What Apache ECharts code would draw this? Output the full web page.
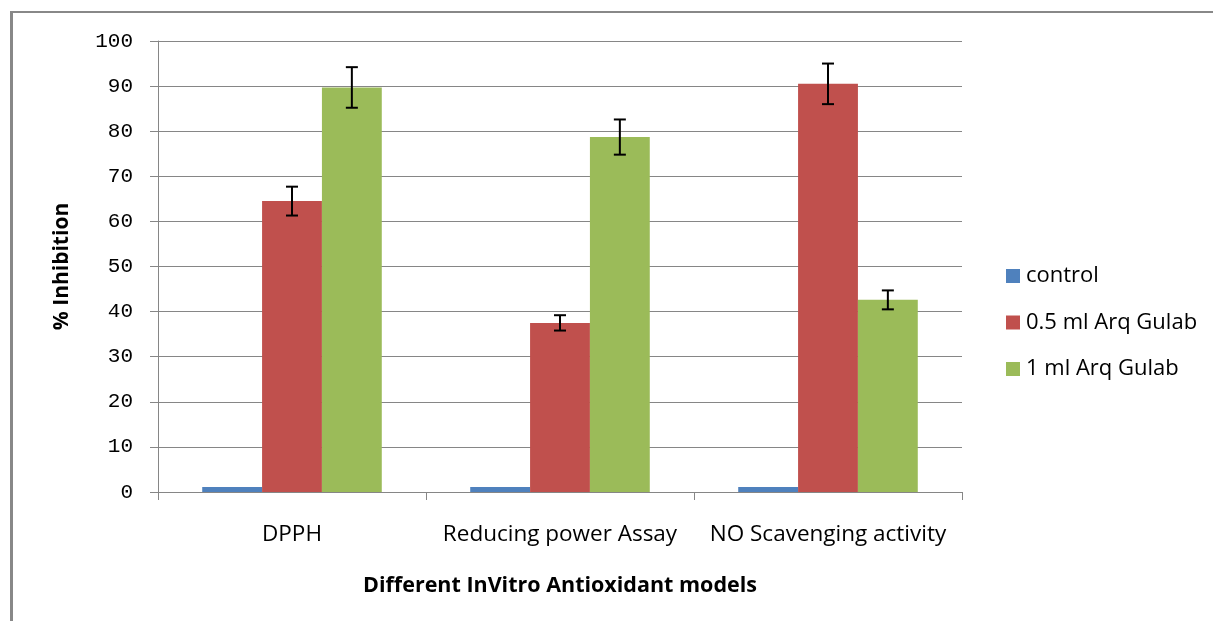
<!DOCTYPE html>
<html>
<head>
<meta charset="utf-8">
<script src="https://cdn.jsdelivr.net/npm/echarts@6/dist/echarts.min.js"></script>
<style>
html,body{margin:0;padding:0;background:#fff;}
#chart{position:absolute;left:0;top:0;width:1213px;height:621px;}
#frame{position:absolute;left:10px;top:11px;width:1203px;height:610px;border-left:3px solid #888;border-top:2px solid #888;pointer-events:none;box-sizing:border-box;}
</style>
</head>
<body>
<div id="chart"></div>
<div id="frame"></div>
<script>
var categories = ['DPPH', 'Reducing power Assay', 'NO Scavenging activity'];
var seriesNames = ['control', '0.5 ml Arq Gulab', '1 ml Arq Gulab'];
var control = [1.1, 1.1, 1.1];
var arq05 = [64.5, 37.5, 90.5];
var arq1 = [89.7, 78.7, 42.6];
var err05 = [3.2, 1.7, 4.5];
var err1 = [4.5, 3.9, 2.1];
var yTicks = [0, 10, 20, 30, 40, 50, 60, 70, 80, 90, 100];

var colors = ['#4F81BD', '#C0504D', '#9BBB59'];
var FONT = 'Open Sans, sans-serif';
var chart = echarts.init(document.getElementById('chart'));

function errData(vals, errs) {
  return vals.map(function (v, i) { return [i, v - errs[i], v + errs[i]]; });
}
function errSeries(vals, errs, offsetIdx) {
  return {
    type: 'custom',
    silent: true,
    z: 10,
    data: errData(vals, errs),
    encode: { x: 0, y: [1, 2] },
    renderItem: function (params, api) {
      var band = api.size([1, 0])[0];
      var bw = band * 0.67 / 3;
      var lo = api.coord([api.value(0), api.value(1)]);
      var hi = api.coord([api.value(0), api.value(2)]);
      var x = lo[0] + offsetIdx * bw;
      var cap = 6;
      var st = { stroke: '#000', lineWidth: 2 };
      return {
        type: 'group',
        children: [
          { type: 'line', shape: { x1: x, y1: lo[1], x2: x, y2: hi[1] }, style: st },
          { type: 'line', shape: { x1: x - cap, y1: lo[1], x2: x + cap, y2: lo[1] }, style: st },
          { type: 'line', shape: { x1: x - cap, y1: hi[1], x2: x + cap, y2: hi[1] }, style: st }
        ]
      };
    }
  };
}

chart.setOption({
  animation: false,
  color: colors,
  grid: { left: 158, right: 251, top: 41, bottom: 129, containLabel: false },
  legend: {
    orient: 'vertical',
    left: 1001,
    top: 260,
    itemWidth: 14,
    itemHeight: 14,
    itemGap: 24.5,
    icon: 'rect',
    data: seriesNames,
    textStyle: { fontFamily: FONT, fontSize: 22, color: '#000', padding: [0, 0, 0, 1] }
  },
  xAxis: {
    type: 'category',
    data: categories,
    name: 'Different InVitro Antioxidant models',
    nameLocation: 'middle',
    nameGap: 83,
    nameTextStyle: { fontFamily: FONT, fontWeight: 'bold', fontSize: 21.5, color: '#000' },
    axisLine: { lineStyle: { color: '#868686', width: 1 } },
    axisTick: { show: true, length: 8, lineStyle: { color: '#868686' } },
    axisLabel: { interval: 0, margin: 31, fontFamily: FONT, fontSize: 22.5, color: '#000' }
  },
  yAxis: {
    type: 'value',
    min: 0,
    max: 100,
    interval: 10,
    name: '% Inhibition',
    nameLocation: 'middle',
    nameRotate: 90,
    nameGap: 85,
    nameTextStyle: { fontFamily: FONT, fontWeight: 'bold', fontSize: 21, color: '#000' },
    axisLine: { show: true, lineStyle: { color: '#868686', width: 1 } },
    axisTick: { show: true, length: 8, lineStyle: { color: '#868686' } },
    splitLine: { lineStyle: { color: '#868686', width: 1 } },
    axisLabel: {
      margin: 25, fontFamily: 'Liberation Mono, DejaVu Sans Mono, monospace', fontSize: 21, color: '#000',
      formatter: function (v) { return yTicks.indexOf(v) >= 0 ? String(v) : ''; }
    }
  },
  series: [
    { name: seriesNames[0], type: 'bar', data: control, barGap: '0%', barCategoryGap: '33%' },
    { name: seriesNames[1], type: 'bar', data: arq05, barGap: '0%', barCategoryGap: '33%' },
    { name: seriesNames[2], type: 'bar', data: arq1, barGap: '0%', barCategoryGap: '33%' },
    errSeries(arq05, err05, 0),
    errSeries(arq1, err1, 1)
  ]
});
</script>
</body>
</html>
